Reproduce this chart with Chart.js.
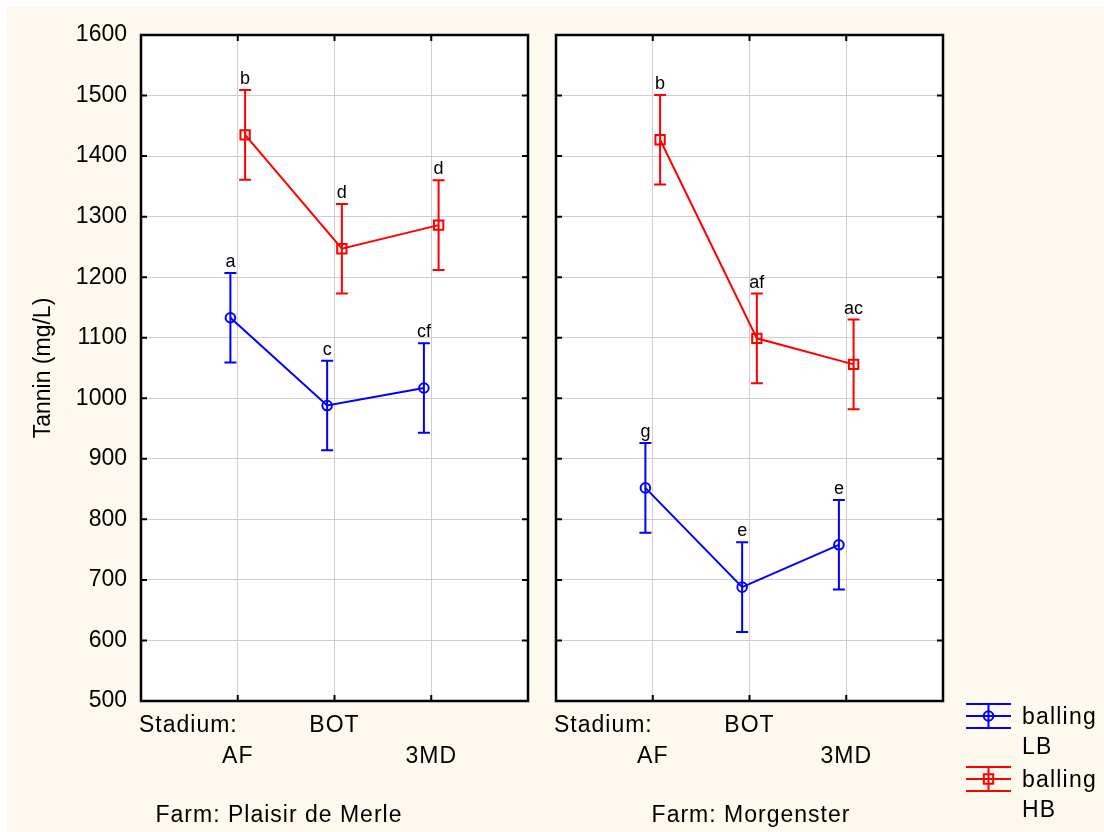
<!DOCTYPE html>
<html>
<head>
<meta charset="utf-8">
<script src="https://cdn.jsdelivr.net/npm/chart.js@4/dist/chart.umd.min.js"></script>
<style>
  html, body { margin: 0; padding: 0; background: #ffffff; }
  #page { position: relative; width: 1104px; height: 832px; overflow: hidden; }
  #paper { position: absolute; left: 7px; top: 7px; right: 0; bottom: 0; background: #fdf9ef; }
  canvas { position: absolute; left: 0; top: 0; }
</style>
</head>
<body>
<div id="page">
  <div id="paper"></div>
  <canvas id="farmA" width="1104" height="832"></canvas>
  <canvas id="farmB" width="1104" height="832"></canvas>
</div>
<script>
// ---- data ----
const stages = ['AF', 'BOT', '3MD'];
const stageHeading = 'Stadium:';
const yMin = 500, yMax = 1600, yStep = 100;
const yTitle = 'Tannin (mg/L)';
const seriesLB = ['balling', 'LB'];
const seriesHB = ['balling', 'HB'];
const farmNames = ['Farm: Plaisir de Merle', 'Farm: Morgenster'];

const plaisirLB = [1133, 988, 1017];
const plaisirLBErr = [74, 74, 74];
const plaisirLBLetters = ['a', 'c', 'cf'];
const plaisirHB = [1435, 1247, 1286];
const plaisirHBErr = [74, 74, 74];
const plaisirHBLetters = ['b', 'd', 'd'];

const morgensterLB = [852, 688, 758];
const morgensterLBErr = [74, 74, 74];
const morgensterLBLetters = ['g', 'e', 'e'];
const morgensterHB = [1427, 1099, 1056];
const morgensterHBErr = [74, 74, 74];
const morgensterHBLetters = ['b', 'af', 'ac'];

// ---- styles ----
const BLUE = '#0000ff';
const RED = '#ff0000';
const GRID = '#cfcfcf';
const FONT = "'Liberation Sans', Arial, sans-serif";
const SHIFT = 0.076;           // horizontal nudge so the two series don't overlap
const CAP = 6;                 // half width of error bar caps
const RECT_R = 6.6;            // square marker radius
const CIRCLE_R = 4.8;          // circle marker radius

Chart.defaults.font.family = FONT;
Chart.defaults.color = '#000';

function textSpaced(ctx, str, x, y, spacing) {
  ctx.letterSpacing = spacing + 'px';
  ctx.fillText(str, x, y);
  ctx.letterSpacing = '0px';
}

const panelPlugin = {
  id: 'panel',
  beforeDraw(chart) {
    const a = chart.chartArea, ctx = chart.ctx;
    ctx.save();
    ctx.fillStyle = '#ffffff';
    ctx.fillRect(a.left, a.top, a.right - a.left, a.bottom - a.top);
    ctx.restore();
  },
  beforeDatasetsDraw(chart) {
    const ctx = chart.ctx, xs = chart.scales.x, ys = chart.scales.y;
    ctx.save();
    ctx.lineWidth = 2;
    chart.data.datasets.forEach(ds => {
      ctx.strokeStyle = ds.borderColor;
      ds.data.forEach((p, i) => {
        const x = xs.getPixelForValue(p.x);
        const yt = ys.getPixelForValue(p.y + ds.errors[i]);
        const yb = ys.getPixelForValue(p.y - ds.errors[i]);
        ctx.beginPath();
        ctx.moveTo(x, yt); ctx.lineTo(x, yb);
        ctx.moveTo(x - CAP, yt); ctx.lineTo(x + CAP, yt);
        ctx.moveTo(x - CAP, yb); ctx.lineTo(x + CAP, yb);
        ctx.stroke();
      });
    });
    ctx.restore();
  },
  afterDatasetsDraw(chart) {
    const ctx = chart.ctx, xs = chart.scales.x, ys = chart.scales.y;
    ctx.save();
    ctx.fillStyle = '#000';
    ctx.font = '18px ' + FONT;
    ctx.textAlign = 'center';
    ctx.textBaseline = 'alphabetic';
    chart.data.datasets.forEach(ds => {
      ds.data.forEach((p, i) => {
        const x = xs.getPixelForValue(p.x);
        const yt = ys.getPixelForValue(p.y + ds.errors[i]);
        ctx.fillText(ds.letters[i], x, yt - 6);
      });
    });
    ctx.restore();
  },
  afterDraw(chart, args, opts) {
    const ctx = chart.ctx, a = chart.chartArea, xs = chart.scales.x, ys = chart.scales.y;
    ctx.save();
    // frame
    ctx.strokeStyle = '#000';
    ctx.lineWidth = 2.5;
    ctx.strokeRect(a.left, a.top, a.right - a.left, a.bottom - a.top);
    // inward tick marks
    ctx.lineWidth = 2;
    ctx.beginPath();
    ys.ticks.forEach(t => {
      const y = ys.getPixelForValue(t.value);
      ctx.moveTo(a.left, y); ctx.lineTo(a.left + 6, y);
      ctx.moveTo(a.right - 6, y); ctx.lineTo(a.right, y);
    });
    xs.ticks.forEach(t => {
      if (t.value <= xs.min || t.value >= xs.max) return;
      const x = xs.getPixelForValue(t.value);
      ctx.moveTo(x, a.top); ctx.lineTo(x, a.top + 6);
      ctx.moveTo(x, a.bottom - 6); ctx.lineTo(x, a.bottom);
    });
    ctx.stroke();

    // category labels, staggered on two rows
    ctx.fillStyle = '#000';
    ctx.font = '23px ' + FONT;
    ctx.textBaseline = 'middle';
    ctx.textAlign = 'left';
    textSpaced(ctx, stageHeading, a.left - 2, a.bottom + 25, 1);
    ctx.textAlign = 'center';
    stages.forEach((s, i) => {
      const x = xs.getPixelForValue(i + 1);
      const y = (i % 2 === 1) ? a.bottom + 25 : a.bottom + 56;
      textSpaced(ctx, s, x, y, 1);
    });
    // farm caption
    textSpaced(ctx, opts.farm, opts.farmX, a.bottom + 115, 1);

    // legend
    if (opts.legend) {
      const entries = [
        { color: BLUE, style: 'circle', text: seriesLB, cy: 716 },
        { color: RED, style: 'rect', text: seriesHB, cy: 779 }
      ];
      const x0 = 966, x1 = 1011, xm = (x0 + x1) / 2;
      entries.forEach(e => {
        ctx.strokeStyle = e.color;
        ctx.lineWidth = 2;
        ctx.beginPath();
        ctx.moveTo(x0, e.cy - 12); ctx.lineTo(x1, e.cy - 12);
        ctx.moveTo(x0, e.cy + 12); ctx.lineTo(x1, e.cy + 12);
        ctx.moveTo(x0, e.cy); ctx.lineTo(x1, e.cy);
        ctx.moveTo(xm, e.cy - 12); ctx.lineTo(xm, e.cy + 12);
        ctx.stroke();
        ctx.fillStyle = 'rgba(0,0,0,0)';
        Chart.helpers.drawPoint(ctx, {
          pointStyle: e.style, radius: e.style === 'rect' ? RECT_R : CIRCLE_R, borderWidth: 2
        }, xm, e.cy);
        ctx.fillStyle = '#000';
        ctx.textAlign = 'left';
        ctx.textBaseline = 'middle';
        textSpaced(ctx, e.text[0], 1022, e.cy + 2, 1.2);
        textSpaced(ctx, e.text[1], 1022, e.cy + 32, 1.2);
      });
    }
    ctx.restore();
  }
};

function series(values, errors, letters, shift, color, style) {
  return {
    data: values.map((v, i) => ({ x: i + 1 + shift, y: v })),
    errors: errors,
    letters: letters,
    borderColor: color,
    borderWidth: 2,
    tension: 0,
    fill: false,
    pointStyle: style,
    pointRadius: style === 'rect' ? RECT_R : CIRCLE_R,
    pointBorderWidth: 2,
    pointBorderColor: color,
    pointBackgroundColor: 'rgba(0,0,0,0)'
  };
}

function makePanel(id, cfg) {
  return new Chart(document.getElementById(id), {
    type: 'line',
    data: {
      datasets: [
        series(cfg.lb, cfg.lbErr, cfg.lbLetters, -SHIFT, BLUE, 'circle'),
        series(cfg.hb, cfg.hbErr, cfg.hbLetters, SHIFT, RED, 'rect')
      ]
    },
    options: {
      responsive: false,
      animation: false,
      events: [],
      layout: { padding: { left: cfg.padLeft, right: cfg.padRight, top: 35, bottom: 131 } },
      plugins: {
        legend: { display: false },
        tooltip: { enabled: false },
        panel: { farm: cfg.farm, farmX: cfg.farmX, legend: cfg.legend }
      },
      scales: {
        x: {
          type: 'linear', min: 0, max: stages.length + 1,
          ticks: { stepSize: 1, display: false },
          grid: { color: GRID, lineWidth: 1, drawTicks: false },
          border: { display: false },
          afterFit(s) { s.height = 0; }
        },
        y: {
          type: 'linear', min: yMin, max: yMax,
          ticks: {
            stepSize: yStep, maxTicksLimit: 30, display: cfg.axisLabels,
            padding: 14, font: { size: 23, family: FONT }, color: '#000',
            callback: v => String(v)
          },
          grid: { color: GRID, lineWidth: 1, drawTicks: false },
          border: { display: false },
          title: {
            display: cfg.axisLabels, text: yTitle, color: '#000',
            font: { size: 23, family: FONT }, padding: { top: 10, bottom: 0 }
          },
          afterFit(s) { s.width = cfg.axisWidth; }
        }
      }
    },
    plugins: [panelPlugin]
  });
}

makePanel('farmA', {
  lb: plaisirLB, lbErr: plaisirLBErr, lbLetters: plaisirLBLetters,
  hb: plaisirHB, hbErr: plaisirHBErr, hbLetters: plaisirHBLetters,
  padLeft: 20, padRight: 1104 - 528, axisWidth: 121, axisLabels: true,
  farm: farmNames[0], farmX: 279, legend: false
});

makePanel('farmB', {
  lb: morgensterLB, lbErr: morgensterLBErr, lbLetters: morgensterLBLetters,
  hb: morgensterHB, hbErr: morgensterHBErr, hbLetters: morgensterHBLetters,
  padLeft: 556, padRight: 1104 - 943, axisWidth: 0, axisLabels: false,
  farm: farmNames[1], farmX: 751, legend: true
});
</script>
</body>
</html>
